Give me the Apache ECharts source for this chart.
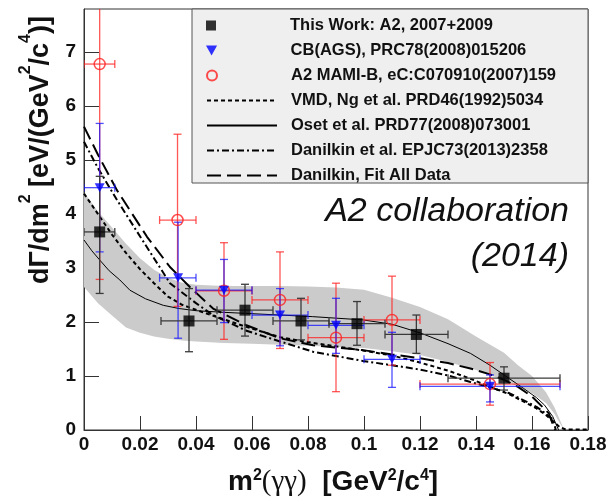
<!DOCTYPE html>
<html>
<head>
<meta charset="utf-8">
<script src="https://cdn.jsdelivr.net/npm/echarts@6/dist/echarts.min.js"></script>
<style>
  html, body { margin: 0; padding: 0; background: #fff; }
  #chart { width: 614px; height: 497px; }
</style>
</head>
<body>
<div id="chart"></div>
<script>
// This Work: A2, 2007+2009
const workX   = [0.0056, 0.0375, 0.0575, 0.0775, 0.0975, 0.1187, 0.1500];
const workY   = [3.67, 2.02, 2.22, 2.02, 1.97, 1.77, 0.96];
const workXLo = [0.000, 0.0275, 0.0475, 0.0675, 0.0875, 0.1075, 0.130];
const workXHi = [0.011, 0.0475, 0.0675, 0.0875, 0.1075, 0.130, 0.170];
const workYLo = [2.53, 1.45, 1.74, 1.67, 1.57, 1.42, 0.74];
const workYHi = [4.70, 2.62, 2.70, 2.44, 2.38, 2.13, 1.17];

// CB(AGS), PRC78(2008)015206
const cbX   = [0.0056, 0.0336, 0.0500, 0.0700, 0.0900, 0.1100, 0.1450];
const cbY   = [4.49, 2.82, 2.59, 2.13, 1.94, 1.31, 0.81];
const cbXLo = [0.000, 0.027, 0.040, 0.060, 0.080, 0.100, 0.120];
const cbXHi = [0.011, 0.040, 0.060, 0.080, 0.100, 0.120, 0.170];
const cbYLo = [3.30, 1.70, 1.99, 1.56, 1.42, 0.79, 0.52];
const cbYHi = [5.68, 3.85, 3.16, 2.62, 2.44, 1.81, 1.02];

// A2 MAMI-B, eC:C070910(2007)159
const mamiX   = [0.0056, 0.0334, 0.0500, 0.0700, 0.0900, 0.1100, 0.1450];
const mamiY   = [6.78, 3.89, 2.58, 2.41, 1.71, 2.04, 0.85];
const mamiXLo = [0.000, 0.027, 0.040, 0.060, 0.080, 0.100, 0.120];
const mamiXHi = [0.011, 0.040, 0.060, 0.080, 0.100, 0.120, 0.170];
const mamiYLo = [2.79, 2.29, 1.68, 1.51, 0.71, 1.20, 0.46];
const mamiYHi = [9.00, 5.48, 3.47, 3.30, 2.72, 2.85, 1.25];

// VMD, Ng et al.
const vmdX = [0, 0.005, 0.010, 0.015, 0.020, 0.025, 0.030, 0.035, 0.0425, 0.050, 0.058, 0.070, 0.082, 0.090, 0.100,
              0.110, 0.120, 0.130, 0.138, 0.145, 0.152, 0.158, 0.1616, 0.165, 0.168, 0.170, 0.172, 0.175, 0.180];
const vmdY = [4.38, 4.00, 3.62, 3.28, 2.98, 2.72, 2.47, 2.32, 2.18, 2.05, 1.91, 1.72, 1.61, 1.55, 1.47,
              1.38, 1.25, 1.10, 0.95, 0.80, 0.66, 0.50, 0.40, 0.28, 0.14, 0.05, 0.01, 0.01, 0.01];

// Oset et al.
const osetX = [0, 0.0028, 0.0056, 0.0090, 0.0128, 0.0164, 0.022, 0.0283, 0.0340, 0.0401, 0.050, 0.058, 0.070, 0.0817, 0.0996,
               0.110, 0.120, 0.130, 0.138, 0.145, 0.150, 0.157, 0.1616, 0.1645, 0.1674, 0.169, 0.1695];
const osetY = [3.52, 3.32, 3.15, 2.95, 2.78, 2.59, 2.43, 2.31, 2.25, 2.21, 2.18, 2.16, 2.13, 2.10, 2.04,
               1.96, 1.80, 1.60, 1.42, 1.20, 1.02, 0.77, 0.60, 0.46, 0.25, 0.06, 0];

// Danilkin et al. EPJC73(2013)2358
const danX = [0, 0.005, 0.0118, 0.0201, 0.0307, 0.040, 0.046, 0.058, 0.070, 0.0818, 0.0996,
              0.110, 0.120, 0.130, 0.138, 0.145, 0.152, 0.1616, 0.1650, 0.1676, 0.1685];
const danY = [5.34, 4.85, 4.26, 3.58, 2.72, 2.35, 2.13, 1.84, 1.64, 1.45, 1.28,
              1.20, 1.12, 1.01, 0.89, 0.79, 0.68, 0.43, 0.30, 0.19, 0];

// Danilkin, Fit All Data
const fitX = [0, 0.005, 0.0118, 0.0225, 0.0307, 0.0378, 0.0461, 0.058, 0.070, 0.0818, 0.0996,
              0.110, 0.120, 0.130, 0.138, 0.145, 0.150, 0.155, 0.160, 0.166, 0.168, 0.1682];
const fitY = [5.62, 5.10, 4.44, 3.58, 3.02, 2.65, 2.25, 1.94, 1.70, 1.57, 1.48,
              1.40, 1.33, 1.24, 1.14, 1.03, 0.93, 0.80, 0.62, 0.31, 0.03, 0];

// grey error band
const bandX  = [0, 0.005, 0.010, 0.015, 0.020, 0.025, 0.030, 0.035, 0.040, 0.050, 0.060, 0.070, 0.080, 0.090, 0.100,
                0.110, 0.120, 0.130, 0.140, 0.150, 0.155, 0.160, 0.165, 0.168, 0.170, 0.1715];
const bandHi = [4.40, 4.05, 3.75, 3.45, 3.18, 2.97, 2.82, 2.73, 2.69, 2.67, 2.67, 2.67, 2.66, 2.64, 2.60,
                2.45, 2.28, 2.05, 1.73, 1.43, 1.20, 1.00, 0.70, 0.42, 0.18, 0];
const bandLo = [2.65, 2.35, 2.12, 1.90, 1.80, 1.73, 1.69, 1.66, 1.64, 1.61, 1.60, 1.58, 1.56, 1.54, 1.52,
                1.46, 1.39, 1.26, 1.11, 0.92, 0.80, 0.68, 0.50, 0.30, 0.12, 0];

const xTicks = [0, 0.02, 0.04, 0.06, 0.08, 0.1, 0.12, 0.14, 0.16, 0.18];
const yTicks = [0, 1, 2, 3, 4, 5, 6, 7];

const FONT = 'Liberation Sans, Arial, sans-serif';
const names = ['This Work: A2, 2007+2009', 'CB(AGS), PRC78(2008)015206', 'A2 MAMI-B, eC:C070910(2007)159',
  'VMD, Ng et al. PRD46(1992)5034', 'Oset et al. PRD77(2008)073001', 'Danilkin et al. EPJC73(2013)2358',
  'Danilkin, Fit All Data'];
const legendIcons = ['path://M0,0L10,0L10,10L0,10Z', 'path://M0,0L10,0L5,9Z', 'circle', null, null, null, null];

const pairs = (xs, ys) => xs.map((x, i) => [x, ys[i]]);
const errRows = (xs, ys, xl, xh, yl, yh) => xs.map((x, i) => [x, ys[i], xl[i], xh[i], yl[i], yh[i]]);

function errorBars(color) {
  return function (params, api) {
    const x = api.value(0), y = api.value(1);
    const p = api.coord([x, y]);
    const l = api.coord([api.value(2), y]);
    const r = api.coord([api.value(3), y]);
    const b = api.coord([x, api.value(4)]);
    const t = api.coord([x, api.value(5)]);
    const c = 4;
    const style = { stroke: color, lineWidth: 1.3 };
    const seg = (x1, y1, x2, y2) => ({ type: 'line', shape: { x1, y1, x2, y2 }, style });
    return {
      type: 'group',
      children: [
        seg(l[0], p[1], r[0], p[1]),
        seg(p[0], t[1], p[0], b[1]),
        seg(l[0], p[1] - c, l[0], p[1] + c),
        seg(r[0], p[1] - c, r[0], p[1] + c),
        seg(p[0] - c, t[1], p[0] + c, t[1]),
        seg(p[0] - c, b[1], p[0] + c, b[1])
      ]
    };
  };
}

function curve(name, xs, ys, type, width) {
  return {
    name, type: 'line', data: pairs(xs, ys), showSymbol: false, symbol: 'none',
    smooth: false, z: 3, clip: true,
    itemStyle: { color: 'rgba(0,0,0,0)', borderWidth: 0 },
    lineStyle: { color: '#000', width, type }
  };
}

// one legend row per entry, 25px apart
const legends = names.map((n, i) => ({
  orient: 'vertical', left: 206, top: 17 + 25 * i, padding: 0,
  itemWidth: 70, itemHeight: 10, z: 6,
  textStyle: {
    fontFamily: FONT, fontWeight: 'bold', fontSize: 16.5, color: '#111', lineHeight: 10,
    padding: [0, 0, 0, legendIcons[i] ? 39 : 9]
  },
  data: [legendIcons[i] ? { name: n, icon: legendIcons[i] } : n]
}));

const chart = echarts.init(document.getElementById('chart'), null, { renderer: 'canvas' });

const option = {
  animation: false,
  backgroundColor: '#fff',
  grid: { left: 84, right: 26, top: 9, bottom: 67, show: true, borderColor: '#333', borderWidth: 1, backgroundColor: '#fff' },
  xAxis: {
    type: 'value', min: 0, max: 0.18, interval: 0.02,
    axisLine: { lineStyle: { color: '#333', width: 1 } },
    axisTick: { inside: true, length: 14, lineStyle: { color: '#333' } },
    splitLine: { show: false },
    axisLabel: {
      margin: 5, color: '#111', fontFamily: FONT, fontWeight: 'bold', fontSize: 19,
      formatter: v => (xTicks.some(t => Math.abs(t - v) < 1e-9) ? String(+v.toFixed(2)) : '')
    }
  },
  yAxis: {
    type: 'value', min: 0, max: 7.8, interval: 1,
    axisLine: { lineStyle: { color: '#333', width: 1 } },
    axisTick: { inside: true, length: 15, lineStyle: { color: '#333' } },
    splitLine: { show: false },
    axisLabel: {
      margin: 8, color: '#111', fontFamily: FONT, fontWeight: 'bold', fontSize: 19, showMaxLabel: false,
      formatter: v => (yTicks.indexOf(v) >= 0 ? String(v) : '')
    }
  },
  legend: legends,
  graphic: [
    { type: 'rect', z: 5, shape: { x: 192, y: 9, width: 396, height: 174 },
      style: { fill: '#efefef', stroke: '#555', lineWidth: 1 } },
    { type: 'text', z: 10, right: 45, top: 195,
      style: { text: 'A2 collaboration', font: 'italic 34px ' + FONT, fill: '#111' } },
    { type: 'text', z: 10, right: 45, top: 240,
      style: { text: '(2014)', font: 'italic 34px ' + FONT, fill: '#111' } },
    { type: 'text', z: 10, left: 228, top: 468,
      style: {
        text: '{b|m}{s|2}{g|(γγ)}{b|  [GeV}{s|2}{b|/c}{s|4}{b|]}',
        rich: {
          b: { fontFamily: FONT, fontWeight: 'bold', fontSize: 28, fill: '#111' },
          g: { fontFamily: 'Liberation Serif, serif', fontSize: 29, fill: '#111' },
          s: { fontFamily: FONT, fontWeight: 'bold', fontSize: 16, fill: '#111', verticalAlign: 'top' }
        }
      } },
    { type: 'text', z: 10, x: 18, y: 284, rotation: Math.PI / 2,
      style: {
        text: '{b|dΓ/dm}{s|2}{b| [eV/(GeV}{s|2}{b|/c}{s|4}{b|)]}',
        rich: {
          b: { fontFamily: FONT, fontWeight: 'bold', fontSize: 27, lineHeight: 36, verticalAlign: 'bottom', fill: '#111' },
          s: { fontFamily: FONT, fontWeight: 'bold', fontSize: 16, lineHeight: 16, verticalAlign: 'top', fill: '#111' }
        }
      } }
  ],
  series: [
    {
      name: 'band', type: 'custom', z: 1, silent: true, clip: true,
      data: [[0, 0]], encode: { x: 0, y: 1 },
      renderItem: function (params, api) {
        const pts = [];
        for (let i = 0; i < bandX.length; i++) pts.push(api.coord([bandX[i], bandHi[i]]));
        for (let i = bandX.length - 1; i >= 0; i--) pts.push(api.coord([bandX[i], bandLo[i]]));
        return { type: 'polygon', shape: { points: pts }, style: { fill: '#cbcbcb' } };
      }
    },
    curve(names[3], vmdX, vmdY, [4, 3], 2),
    curve(names[4], osetX, osetY, 'solid', 1),
    curve(names[5], danX, danY, [7, 3, 2, 3], 2),
    curve(names[6], fitX, fitY, [14, 6], 2),
    { name: 'errMami', type: 'custom', z: 4, clip: true, encode: { x: 0, y: 1 },
      data: errRows(mamiX, mamiY, mamiXLo, mamiXHi, mamiYLo, mamiYHi), renderItem: errorBars('rgba(255,30,30,0.75)') },
    { name: 'errCb', type: 'custom', z: 4, clip: true, encode: { x: 0, y: 1 },
      data: errRows(cbX, cbY, cbXLo, cbXHi, cbYLo, cbYHi), renderItem: errorBars('rgba(20,20,255,0.75)') },
    { name: 'errWork', type: 'custom', z: 4, clip: true, encode: { x: 0, y: 1 },
      data: errRows(workX, workY, workXLo, workXHi, workYLo, workYHi), renderItem: errorBars('#3a3a3a') },
    { name: names[2], type: 'scatter', z: 5, data: pairs(mamiX, mamiY), symbol: 'circle', symbolSize: 11,
      itemStyle: { color: 'rgba(255,255,255,0)', borderColor: '#ff2020', borderWidth: 1.5 } },
    { name: names[1], type: 'scatter', z: 5, data: pairs(cbX, cbY), symbol: 'path://M0,0L10,0L5,9Z', symbolSize: [10, 9],
      itemStyle: { color: '#0000ff' } },
    { name: names[0], type: 'scatter', z: 5, data: pairs(workX, workY), symbol: 'rect', symbolSize: 11,
      itemStyle: { color: '#000' } }
  ]
};

chart.setOption(option);
</script>
</body>
</html>
